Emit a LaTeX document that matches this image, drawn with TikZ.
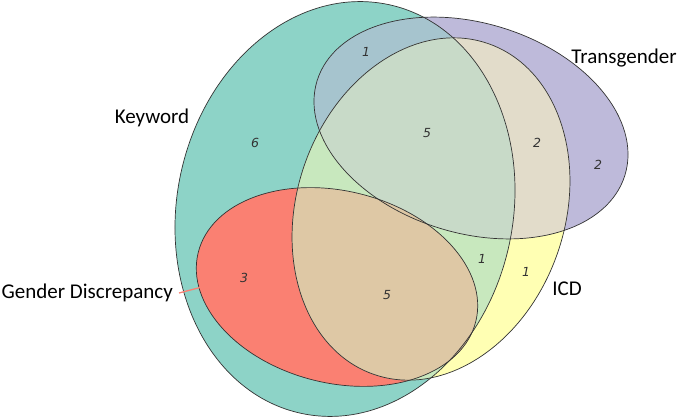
\documentclass[tikz,border=0pt]{standalone}
\usepackage{fontspec}
\setmainfont{Carlito}
\newfontfamily\numfont{DejaVu Sans}

\definecolor{kwfill}{RGB}{141,211,199}
\definecolor{tgfill}{RGB}{190,186,218}
\definecolor{icdfill}{RGB}{255,255,179}
\definecolor{gdfill}{RGB}{250,128,114}
\definecolor{ktfill}{RGB}{166,196,206}
\definecolor{kifill}{RGB}{200,232,190}
\definecolor{tifill}{RGB}{226,220,202}
\definecolor{ktifill}{RGB}{200,218,200}
\definecolor{gifill}{RGB}{222,200,165}

% the four sets, in pixel coordinates
\newcommand{\kwshape}{(345, 209) circle [x radius=168pt, y radius=209pt, rotate=-12]}
\newcommand{\tgshape}{(471, 128) circle [x radius=161pt, y radius=105pt, rotate=-17]}
\newcommand{\icdshape}{(431, 209) circle [x radius=134pt, y radius=175pt, rotate=-19]}
\newcommand{\gdshape}{(337, 287) circle [x radius=143pt, y radius=96pt, rotate=-14]}

\begin{document}
\begin{tikzpicture}[x=1pt, y=-1pt,
        outline/.style={draw=black!80, line width=0.7pt},
        setlabel/.style={font=\fontsize{21}{23}\selectfont, inner sep=0pt},
        count/.style={font=\numfont\itshape\fontsize{12.5}{13}\selectfont, text=black!80, inner sep=0pt}]
        \useasboundingbox (0, 0) rectangle (680, 419);

        % Base fills
        \fill [kwfill] \kwshape;
        \fill [tgfill] \tgshape;
        \fill [icdfill] \icdshape;
        \fill [gdfill] \gdshape;

        % Overlaps
        \begin{scope}
            \clip \kwshape;
            \fill [ktfill] \tgshape;
            \fill [kifill] \icdshape;
        \end{scope}
        \begin{scope}
            \clip \tgshape;
            \fill [tifill] \icdshape;
        \end{scope}
        \begin{scope}
            \clip \kwshape;
            \clip \tgshape;
            \fill [ktifill] \icdshape;
        \end{scope}
        \begin{scope}
            \clip \gdshape;
            \fill [gifill] \icdshape;
        \end{scope}

        % Outlines
        \draw [outline] \kwshape;
        \draw [outline] \tgshape;
        \draw [outline] \icdshape;
        \draw [outline] \gdshape;

        % Counts
        \node [count] (nk) at (255, 143) {6};
        \node [count] (nkt) at (366, 52) {1};
        \node [count] (nkti) at (427, 133) {5};
        \node [count] (nti) at (537, 143) {2};
        \node [count] (nt) at (598, 165) {2};
        \node [count] (nkg) at (244, 278) {3};
        \node [count] (nkgi) at (387, 295) {5};
        \node [count] (nki) at (482, 259) {1};
        \node [count] (ni) at (526, 272) {1};

        % Set names
        \node [setlabel] (keyword) at (152, 118) {Keyword};
        \node [setlabel] (transgender) at (624, 58) {Transgender};
        \node [setlabel] (icd) at (567, 289) {ICD};
        \node [setlabel, anchor=east] (gender) at (173, 293) {Gender Discrepancy};
        \coordinate (gdtip) at (202, 287);
        \draw [gdfill, line width=1.3pt] ([xshift=6pt]gender.east) -- (gdtip);
    \end{tikzpicture}
\end{document}
